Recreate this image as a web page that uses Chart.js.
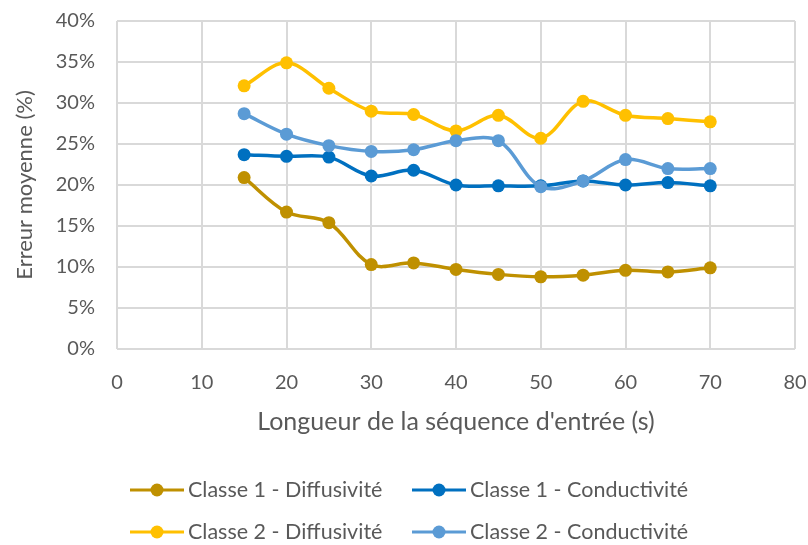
<!DOCTYPE html>
<html>
<head>
<meta charset="utf-8">
<script src="https://cdn.jsdelivr.net/npm/chart.js@4"></script>
<style>
  html, body { margin: 0; padding: 0; background: #fff; }
  #wrap { width: 808px; height: 545px; }
</style>
</head>
<body>
<div id="wrap"><canvas id="chart" width="808" height="545"></canvas></div>
<script>
const seqLengths = [15, 20, 25, 30, 35, 40, 45, 50, 55, 60, 65, 70];
const c1Diffusivite = [20.9, 16.7, 15.4, 10.3, 10.5, 9.7, 9.1, 8.8, 9.0, 9.6, 9.4, 9.9];
const c1Conductivite = [23.7, 23.5, 23.4, 21.1, 21.8, 20.0, 19.9, 19.9, 20.5, 20.0, 20.3, 19.9];
const c2Diffusivite = [32.1, 34.9, 31.8, 29.0, 28.6, 26.6, 28.5, 25.7, 30.2, 28.5, 28.1, 27.7];
const c2Conductivite = [28.7, 26.2, 24.8, 24.1, 24.3, 25.4, 25.4, 19.8, 20.5, 23.1, 22.0, 22.0];

const seriesLabels = [
  "Classe 1 - Diffusivité",
  "Classe 1 - Conductivité",
  "Classe 2 - Diffusivité",
  "Classe 2 - Conductivité",
];
const seriesColors = ["#BF9000", "#0070C0", "#FFC000", "#5B9BD5"];
const seriesValues = [c1Diffusivite, c1Conductivite, c2Diffusivite, c2Conductivite];

const FONT = "Lato, 'Open Sans', sans-serif";
const TEXT = "#595959";

const toPoints = (values) => values.map((v, i) => ({ x: seqLengths[i], y: v }));

// two-column legend under the x axis title
const bottomLegend = {
  id: "bottomLegend",
  afterDraw(chart) {
    const ctx = chart.ctx;
    const sets = chart.data.datasets;
    const lineLen = 54;
    const gap = 4;
    const colW = 282;
    const startX = 130;
    const rows = [490, 532];
    ctx.save();
    ctx.font = "21.5px " + FONT;
    sets.forEach((ds, i) => {
      const x = startX + (i % 2) * colW;
      const y = rows[Math.floor(i / 2)];
      ctx.strokeStyle = ds.borderColor;
      ctx.lineWidth = 3;
      ctx.beginPath();
      ctx.moveTo(x, y);
      ctx.lineTo(x + lineLen, y);
      ctx.stroke();
      ctx.fillStyle = ds.borderColor;
      ctx.beginPath();
      ctx.arc(x + lineLen / 2, y, 6.5, 0, Math.PI * 2);
      ctx.fill();
      ctx.fillStyle = TEXT;
      ctx.textBaseline = "middle";
      ctx.textAlign = "left";
      ctx.fillText(ds.label, x + lineLen + gap, y);
    });
    ctx.restore();
  },
};

const datasets = seriesValues.map((vals, i) => ({
  label: seriesLabels[i],
  data: toPoints(vals),
  borderColor: seriesColors[i],
  backgroundColor: seriesColors[i],
  borderWidth: 3.5,
  pointRadius: 6.5,
  pointHoverRadius: 6.5,
  pointBorderWidth: 0,
  tension: 0.35,
  order: seriesValues.length - i,
}));

new Chart(document.getElementById("chart"), {
  type: "line",
  data: { datasets },
  plugins: [bottomLegend],
  options: {
    responsive: false,
    animation: false,
    layout: { padding: { left: 0, right: 13, top: 21, bottom: 108 } },
    plugins: {
      legend: { display: false },
      tooltip: { enabled: false },
    },
    scales: {
      x: {
        type: "linear",
        min: 0,
        max: 80,
        ticks: {
          stepSize: 10,
          padding: 22,
          color: TEXT,
          font: { family: FONT, size: 20 },
        },
        grid: { color: "#D9D9D9", lineWidth: 2, drawTicks: false },
        border: { display: false },
        title: {
          display: true,
          text: "Longueur de la séquence d'entrée (s)",
          color: TEXT,
          font: { family: FONT, size: 25 },
          padding: 0,
        },
        afterFit(scale) {
          scale.height = 88;
          scale.paddingLeft = 0;
          scale.paddingRight = 0;
        },
      },
      y: {
        min: 0,
        max: 40,
        ticks: {
          stepSize: 2.5,
          padding: 22,
          color: TEXT,
          font: { family: FONT, size: 20 },
          callback: (v) => (v % 5 === 0 ? v + "%" : ""),
        },
        grid: {
          drawTicks: false,
          lineWidth: 2,
          color: (c) => (c.tick && c.tick.value % 5 === 0 ? "#D9D9D9" : "#F2F2F2"),
        },
        border: { display: false },
        title: {
          display: true,
          text: "Erreur moyenne (%)",
          color: TEXT,
          font: { family: FONT, size: 22 },
          padding: { top: 12, bottom: 0 },
        },
        afterFit(scale) {
          scale.width = 117;
          scale.paddingTop = 0;
          scale.paddingBottom = 0;
        },
      },
    },
  },
});
</script>
</body>
</html>
